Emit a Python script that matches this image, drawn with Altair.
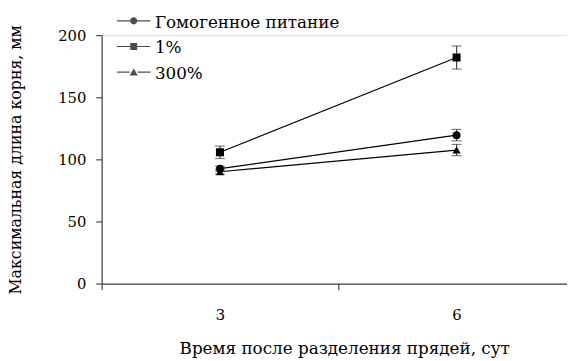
import altair as alt
import pandas as pd

series = ["Гомогенное питание", "1%", "300%"]
days = [3, 6]
means = {
    "Гомогенное питание": [92.5, 119.5],
    "1%": [105.7, 182.0],
    "300%": [90.0, 107.5],
}
errs = {
    "Гомогенное питание": [2.0, 4.6],
    "1%": [5.0, 9.3],
    "300%": [2.0, 4.5],
}
y_ticks = [0, 50, 100, 150, 200]

rows = []
for s in series:
    for i, d in enumerate(days):
        m = means[s][i]
        e = errs[s][i]
        rows.append({"series": s, "day": d, "mean": m, "lo": m - e, "hi": m + e})
df = pd.DataFrame(rows)

FONT = "DejaVu Serif"
FS_T = 17
FS_YT = 16
FS_L = 15
FS_LEG = 17
AX = "#454545"

xscale = alt.Scale(type="band", domain=days, range=[0, 480], paddingInner=0, paddingOuter=0)
yscale = alt.Scale(domain=[0, 200], nice=False)

xaxis = alt.Axis(
    tickBand="extent", tickSize=6, labelPadding=18, grid=False, labelAngle=0,
    labelFont=FONT, labelFontSize=FS_L, labelColor="black",
    domainColor=AX, tickColor=AX, domainWidth=1.2, tickWidth=1.2,
    title="Время после разделения прядей, сут",
    titleFont=FONT, titleFontSize=FS_T, titleFontWeight="normal", titleColor="black",
    titleX=246, titleY=71, titleBaseline="alphabetic", titleAlign="center",
)
yaxis = alt.Axis(
    values=y_ticks, tickSize=6, labelPadding=10, grid=False,
    labelFont=FONT, labelFontSize=FS_L, labelColor="black",
    domainColor=AX, tickColor=AX, domainWidth=1.2, tickWidth=1.2,
    title="Максимальная длина корня, мм",
    titleFont=FONT, titleFontSize=FS_YT, titleFontWeight="normal", titleColor="black",
    titleX=-87, titleBaseline="middle", titleAngle=-90,
)

base = alt.Chart(df)

lines = base.mark_line(color="black", strokeWidth=1.2).encode(
    x=alt.X("day:O", scale=xscale, axis=xaxis),
    y=alt.Y("mean:Q", scale=yscale, axis=yaxis),
    detail="series:N",
)
bars = base.mark_rule(color=AX, strokeWidth=1.2).encode(
    x="day:O", y="lo:Q", y2="hi:Q"
)
cap_hi = base.mark_tick(color=AX, orient="horizontal", size=10, thickness=1.2).encode(
    x="day:O", y="hi:Q"
)
cap_lo = base.mark_tick(color=AX, orient="horizontal", size=10, thickness=1.2).encode(
    x="day:O", y="lo:Q"
)
points = base.mark_point(filled=True, color="black", opacity=1).encode(
    x="day:O", y="mean:Q",
    shape=alt.Shape("series:N", scale=alt.Scale(domain=series, range=["circle", "square", "triangle-up"]), legend=None),
    size=alt.Size("series:N", scale=alt.Scale(domain=series, range=[64, 69, 100]), legend=None),
)

legend_paths = [
    "M-3.4,-0.52H-0.7V-0.28H-3.4Z M0.7,-0.52H3.4V-0.28H0.7Z M-0.72,-0.4A0.72,0.72 0 1,0 0.72,-0.4A0.72,0.72 0 1,0 -0.72,-0.4Z",
    "M-3.4,-0.52H-0.7V-0.28H-3.4Z M0.7,-0.52H3.4V-0.28H0.7Z M-0.7,-1.1H0.7V0.3H-0.7Z",
    "M-3.4,-0.52H-0.8V-0.28H-3.4Z M0.8,-0.52H3.4V-0.28H0.8Z M0,-1.15L0.82,0.3H-0.82Z",
]
leg = base.mark_point(filled=True, color="black", size=100).encode(
    x="day:O", y="mean:Q",
    shape=alt.Shape(
        "series:N",
        scale=alt.Scale(domain=series, range=legend_paths),
        legend=alt.Legend(
            title=None, orient="none", legendX=24, legendY=-21,
            labelFont=FONT, labelFontSize=FS_LEG, labelColor="black",
            symbolSize=100, symbolStrokeWidth=0, symbolFillColor="black",
            labelOffset=13, rowPadding=8, padding=0, labelLimit=400,
        ),
    ),
).transform_filter("false")

chart = alt.layer(lines, bars, cap_hi, cap_lo, points, leg).resolve_scale(
    shape="independent", size="independent"
).properties(
    width=472, height=252,
    autosize=alt.AutoSizeParams(type="none"),
    padding={"left": 95, "top": 25, "right": 0, "bottom": 75},
).configure_view(stroke=None).configure(background="white", font=FONT)

chart.save("out.html", embed_options={"renderer": "svg", "actions": False})
